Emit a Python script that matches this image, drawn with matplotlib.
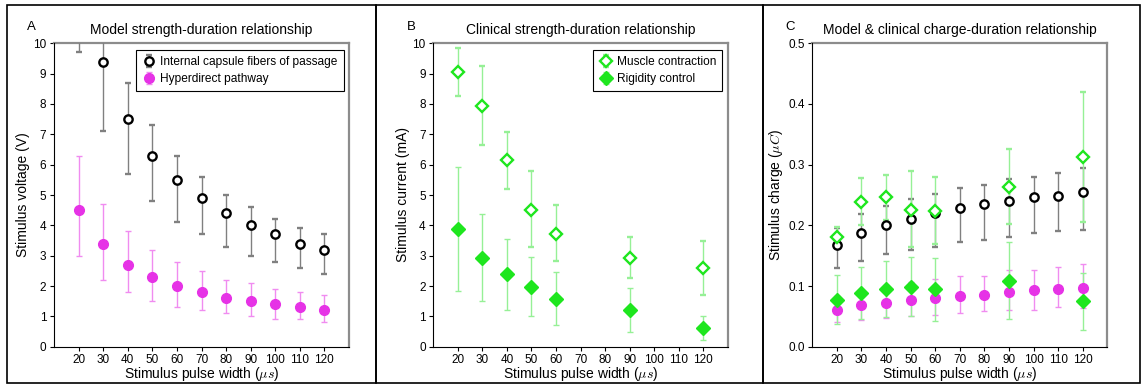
import matplotlib
matplotlib.use('Agg')
import matplotlib.pyplot as plt
from matplotlib.patches import Rectangle
import numpy as np

plt.rcParams['font.family'] = ['Liberation Sans', 'DejaVu Sans']
plt.rcParams['mathtext.fontset'] = 'cm'

# pulse widths (us)
pw_model = [20, 30, 40, 50, 60, 70, 80, 90, 100, 110, 120]
pw_clin = [20, 30, 40, 50, 60, 90, 120]

# Panel A: model thresholds (V) - mean, lower, upper
icf_v = [12.6, 9.4, 7.5, 6.3, 5.5, 4.9, 4.4, 4.0, 3.7, 3.4, 3.2]
icf_v_lo = [9.7, 7.1, 5.7, 4.8, 4.1, 3.7, 3.3, 3.0, 2.8, 2.6, 2.4]
icf_v_hi = [14.7, 10.9, 8.7, 7.3, 6.3, 5.6, 5.0, 4.6, 4.2, 3.9, 3.7]
hdp_v = [4.5, 3.4, 2.7, 2.3, 2.0, 1.8, 1.6, 1.5, 1.4, 1.3, 1.2]
hdp_v_lo = [3.0, 2.2, 1.8, 1.5, 1.3, 1.2, 1.1, 1.0, 0.9, 0.9, 0.8]
hdp_v_hi = [6.3, 4.7, 3.8, 3.2, 2.8, 2.5, 2.2, 2.1, 1.9, 1.8, 1.7]

# Panel B: clinical thresholds (mA)
mus_i = [9.05, 7.93, 6.14, 4.52, 3.73, 2.93, 2.60]
mus_i_lo = [8.27, 6.65, 5.20, 3.28, 2.82, 2.26, 1.71]
mus_i_hi = [9.83, 9.25, 7.07, 5.78, 4.66, 3.62, 3.49]
rig_i = [3.87, 2.93, 2.38, 1.97, 1.58, 1.20, 0.62]
rig_i_lo = [1.85, 1.50, 1.22, 1.00, 0.72, 0.50, 0.22]
rig_i_hi = [5.92, 4.37, 3.56, 2.95, 2.45, 1.92, 1.02]

# Panel C: charge (uC)
icf_q = [0.168, 0.188, 0.200, 0.210, 0.220, 0.229, 0.235, 0.240, 0.247, 0.249, 0.255]
icf_q_lo = [0.129, 0.142, 0.152, 0.160, 0.164, 0.173, 0.176, 0.180, 0.187, 0.191, 0.192]
icf_q_hi = [0.196, 0.218, 0.232, 0.243, 0.252, 0.261, 0.267, 0.276, 0.280, 0.286, 0.294]
hdp_q = [0.060, 0.068, 0.072, 0.077, 0.080, 0.084, 0.085, 0.090, 0.093, 0.095, 0.096]
hdp_q_lo = [0.040, 0.044, 0.048, 0.050, 0.052, 0.056, 0.059, 0.060, 0.060, 0.066, 0.064]
hdp_q_hi = [0.084, 0.094, 0.101, 0.107, 0.112, 0.117, 0.117, 0.126, 0.127, 0.132, 0.136]
mus_q = [0.181, 0.238, 0.246, 0.226, 0.224, 0.264, 0.312]
mus_q_lo = [0.165, 0.200, 0.208, 0.164, 0.169, 0.203, 0.205]
mus_q_hi = [0.197, 0.278, 0.283, 0.289, 0.280, 0.326, 0.419]
rig_q = [0.077, 0.088, 0.095, 0.099, 0.095, 0.108, 0.075]
rig_q_lo = [0.037, 0.045, 0.049, 0.050, 0.043, 0.045, 0.027]
rig_q_hi = [0.118, 0.131, 0.142, 0.148, 0.147, 0.173, 0.122]

MAG = '#e632e6'
MAG_L = '#f08cf0'
GRN = '#1ee61e'
GRN_L = '#96f096'
BLK_L = '#808080'


def errbar(ax, x, y, lo, hi, kind, label=None):
    y = np.array(y)
    yerr = [y - np.array(lo), np.array(hi) - y]
    if kind == 'icf':
        st = dict(fmt='o', mfc='white', mec='black', mew=1.7, ms=6,
                  ecolor=BLK_L, capcolor='black')
    elif kind == 'hdp':
        st = dict(fmt='o', mfc=MAG, mec=MAG, mew=1, ms=7,
                  ecolor=MAG_L, capcolor=MAG)
    elif kind == 'mus':
        st = dict(fmt='D', mfc='white', mec=GRN, mew=1.7, ms=6,
                  ecolor=GRN_L, capcolor=GRN)
    else:
        st = dict(fmt='D', mfc=GRN, mec=GRN, mew=1, ms=7,
                  ecolor=GRN_L, capcolor=GRN)
    capcolor = st.pop('capcolor')
    cont = ax.errorbar(x, y, yerr=yerr, elinewidth=1, capsize=2, capthick=2,
                       label=label, zorder=3, **st)
    for cap in cont[1]:
        cap.set_color(capcolor)
    return cont


def style(ax, ylim, yticks, ylabel, title, letter):
    ax.set_xlim(10, 130)
    ax.set_ylim(*ylim)
    ax.set_xticks([20, 30, 40, 50, 60, 70, 80, 90, 100, 110, 120])
    ax.set_yticks(yticks)
    ax.tick_params(labelsize=8.5, length=3, direction='out', pad=2.5)
    for s in ['top', 'right']:
        ax.spines[s].set_color('#8c8c8c')
        ax.spines[s].set_linewidth(1.6)
    ax.set_xlabel(r'Stimulus pulse width ($\mu s$)', fontsize=10, labelpad=-1)
    ax.set_ylabel(ylabel, fontsize=10, labelpad=2)
    ax.set_title(title, fontsize=10, pad=7)
    ax.text(-0.09, 1.045, letter, transform=ax.transAxes, fontsize=9.5)


fig = plt.figure(figsize=(11.48, 3.84), dpi=100)

# panel frames
for x0, x1 in [(7, 376), (376, 763), (763, 1140)]:
    fig.add_artist(Rectangle((x0 / 1148, 1 / 384), (x1 - x0) / 1148, (379 - 1) / 384,
                             transform=fig.transFigure, fill=False, ec='black', lw=1.2))

axA = fig.add_axes([54 / 1148, 1 - 346.7 / 384, 295 / 1148, 303.4 / 384])
axB = fig.add_axes([433.3 / 1148, 1 - 346.7 / 384, 294.4 / 1148, 303.4 / 384])
axC = fig.add_axes([812.3 / 1148, 1 - 346.7 / 384, 295 / 1148, 303.4 / 384])

errbar(axA, pw_model, icf_v, icf_v_lo, icf_v_hi, 'icf', 'Internal capsule fibers of passage')
errbar(axA, pw_model, hdp_v, hdp_v_lo, hdp_v_hi, 'hdp', 'Hyperdirect pathway')
style(axA, (0, 10), range(0, 11), 'Stimulus voltage (V)', 'Model strength-duration relationship', 'A')

errbar(axB, pw_clin, mus_i, mus_i_lo, mus_i_hi, 'mus', 'Muscle contraction')
errbar(axB, pw_clin, rig_i, rig_i_lo, rig_i_hi, 'rig', 'Rigidity control')
style(axB, (0, 10), range(0, 11), 'Stimulus current (mA)', 'Clinical strength-duration relationship', 'B')

errbar(axC, pw_model, icf_q, icf_q_lo, icf_q_hi, 'icf')
errbar(axC, pw_model, hdp_q, hdp_q_lo, hdp_q_hi, 'hdp')
errbar(axC, pw_clin, mus_q, mus_q_lo, mus_q_hi, 'mus')
errbar(axC, pw_clin, rig_q, rig_q_lo, rig_q_hi, 'rig')
style(axC, (0, 0.5), [0.0, 0.1, 0.2, 0.3, 0.4, 0.5], r'Stimulus charge ($\mu C$)',
      'Model & clinical charge-duration relationship', 'C')
axC.set_yticklabels(['0.0', '0.1', '0.2', '0.3', '0.4', '0.5'])

for ax in (axA, axB):
    leg = ax.legend(loc='upper right', bbox_to_anchor=(0.99, 0.985), fontsize=8.6,
                    fancybox=False, edgecolor='black', framealpha=1,
                    borderpad=0.5, handletextpad=0.4, handlelength=1.1,
                    labelspacing=0.4, borderaxespad=0.2)
    leg.get_frame().set_linewidth(0.8)

for ax in (axA, axB, axC):
    for sp in ['left', 'bottom']:
        ax.spines[sp].set_zorder(5)

fig.savefig('out.png', dpi=100)
